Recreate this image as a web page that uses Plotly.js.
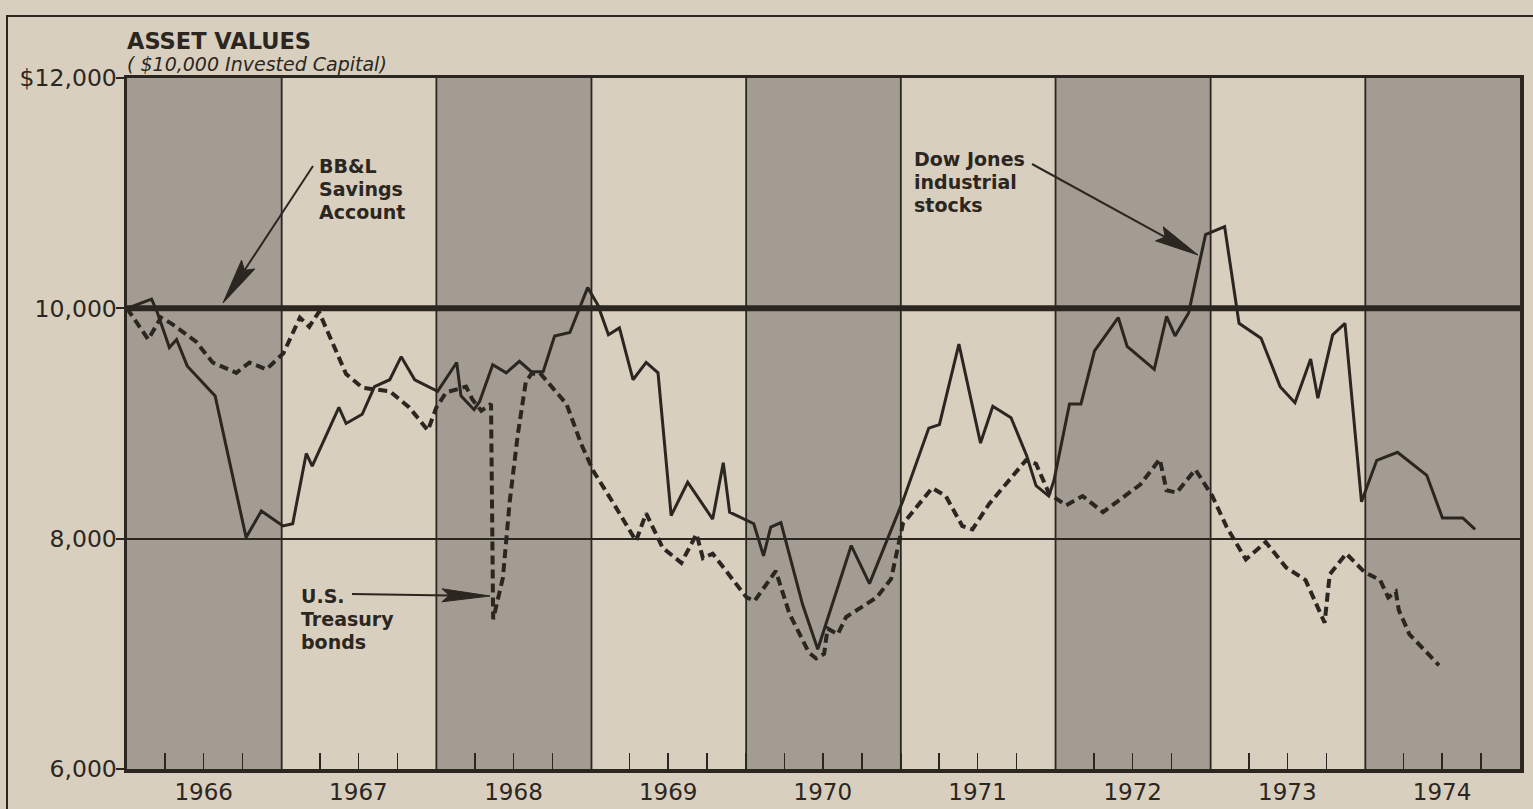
<!DOCTYPE html>
<html>
<head>
<meta charset="utf-8">
<script src="https://cdn.plot.ly/plotly-3.0.1.min.js"></script>
<style>
  html, body { margin: 0; padding: 0; background: #d8cfbf; }
  #chart { width: 1533px; height: 809px; }
</style>
</head>
<body>
<div id="chart"></div>
<script>
// ---------------- DATA ----------------
const years = [1966, 1967, 1968, 1969, 1970, 1971, 1972, 1973, 1974];
const yearLabels = ['1966', '1967', '1968', '1969', '1970', '1971', '1972', '1973', '1974'];

const yTickVals = [6000, 8000, 10000, 12000];
const yTickText = ['6,000', '8,000', '10,000', '$12,000'];

const savingsDates = ['1966-01-01', '1975-01-01'];
const savingsValues = [10000, 10000];

const dowDates = [
  '1966-01-01','1966-02-28','1966-03-13','1966-04-11','1966-04-28','1966-05-23','1966-07-28','1966-09-16','1966-10-09','1966-11-14',
  '1967-01-04','1967-01-27','1967-02-28','1967-03-14','1967-05-16','1967-06-02','1967-07-10','1967-08-08','1967-09-13','1967-10-10','1967-11-11',
  '1968-01-04','1968-02-18','1968-02-28','1968-03-30','1968-04-12','1968-05-13','1968-06-14','1968-07-15','1968-08-12','1968-09-09','1968-10-06','1968-11-11','1968-12-23',
  '1969-01-16','1969-02-10','1969-03-08','1969-04-09','1969-05-10','1969-06-07','1969-07-08','1969-08-16','1969-10-14','1969-11-08','1969-11-23',
  '1970-01-19','1970-02-11','1970-02-28','1970-03-24','1970-05-14','1970-06-19','1970-09-06','1970-10-19',
  '1971-01-06','1971-03-08','1971-04-02','1971-05-18','1971-07-08','1971-08-06','1971-09-18','1971-10-25','1971-11-16','1971-12-16','1971-12-28',
  '1972-02-03','1972-03-01','1972-04-02','1972-05-28','1972-06-18','1972-08-21','1972-09-19','1972-10-09','1972-11-10','1972-12-20',
  '1973-02-03','1973-03-09','1973-04-30','1973-06-14','1973-07-19','1973-08-25','1973-09-11','1973-10-16','1973-11-14','1973-12-23',
  '1974-01-28','1974-03-18','1974-05-26','1974-07-02','1974-08-19','1974-09-17'
];
const dowValues = [
  10000,10080,9970,9660,9730,9500,9240,8390,8010,8240,
  8110,8130,8740,8630,9140,9000,9080,9320,9380,9580,9380,
  9280,9530,9240,9120,9190,9510,9440,9540,9450,9450,9760,9790,10180,
  10030,9770,9830,9380,9530,9440,8200,8490,8170,8660,8230,
  8130,7850,8100,8140,7430,7040,7940,7610,
  8330,8960,8990,9690,8830,9150,9050,8720,8460,8370,8500,
  9170,9170,9630,9920,9670,9470,9930,9760,9960,10640,
  10710,9870,9740,9320,9180,9560,9220,9770,9870,8320,
  8680,8750,8550,8180,8180,8080
];

const bondDates = [
  '1966-01-01','1966-02-20','1966-03-22','1966-04-15','1966-06-13','1966-07-22','1966-09-16','1966-10-17','1966-11-26',
  '1967-01-05','1967-02-13','1967-03-07','1967-03-30','1967-06-02','1967-07-11','1967-09-13','1967-10-29','1967-12-12',
  '1968-01-01','1968-01-24','1968-03-11','1968-03-26','1968-04-16','1968-05-09','1968-05-14','1968-06-06','1968-06-22','1968-07-11','1968-07-30','1968-08-12','1968-09-01','1968-10-10','1968-11-03','1968-12-08',
  '1969-01-05','1969-02-28','1969-04-16','1969-05-10','1969-06-18','1969-08-01','1969-09-06','1969-09-21','1969-10-14',
  '1970-01-02','1970-01-21','1970-03-12','1970-04-13','1970-05-29','1970-06-15','1970-07-04','1970-07-12','1970-08-05','1970-08-25','1970-11-05','1970-12-09',
  '1971-01-06','1971-02-28','1971-03-16','1971-04-17','1971-05-26','1971-06-19','1971-07-28','1971-10-23','1971-11-16','1971-12-17',
  '1972-01-26','1972-03-05','1972-04-22','1972-07-19','1972-09-03','1972-09-19','1972-10-13','1972-11-26',
  '1973-01-05','1973-02-08','1973-03-25','1973-05-11','1973-06-28','1973-08-13','1973-09-27','1973-10-09','1973-11-17','1973-12-30',
  '1974-02-05','1974-02-24','1974-03-14','1974-03-21','1974-04-15','1974-06-24'
];
const bondValues = [
  10000,9730,9920,9870,9710,9530,9440,9530,9470,
  9610,9920,9840,9970,9430,9310,9280,9140,8940,
  9140,9270,9320,9210,9110,9170,7300,7660,8320,8900,9360,9430,9440,9280,9170,8820,
  8590,8270,7980,8220,7920,7790,8040,7830,7870,
  7490,7460,7720,7350,7010,6960,7000,7220,7170,7320,7490,7650,
  8130,8360,8440,8370,8110,8080,8300,8680,8650,8390,
  8290,8370,8230,8470,8690,8420,8400,8600,
  8370,8100,7820,7970,7750,7640,7270,7690,7870,7710,
  7640,7490,7540,7380,7170,6900
];

// ---------------- STYLE / LAYOUT ----------------
const INK = '#2c2621';
const PAPER = '#d8cfbf';
const DARK = '#a29c93';
const FONT = 'DejaVu Sans';

const W = 1533, H = 809, ML = 127, MR = 13, MT = 78, MB = 40;
const PW = W - ML - MR, PH = H - MT - MB;
const px = x => (x - ML) / PW;
const py = y => 1 - (y - MT) / PH;

const shapes = [];
// year bands
years.forEach((yr, i) => {
  if (i % 2 === 0) {
    shapes.push({type: 'rect', xref: 'x', yref: 'paper', x0: yr + '-01-01', x1: (yr + 1) + '-01-01',
      y0: 0, y1: 1, fillcolor: DARK, line: {width: 0}, layer: 'below'});
  }
  if (i > 0) {
    shapes.push({type: 'line', xref: 'x', yref: 'paper', x0: yr + '-01-01', x1: yr + '-01-01',
      y0: 0, y1: 1, line: {color: INK, width: 1.8}, layer: 'below'});
  }
});
// outer frame of the figure
shapes.push({type: 'rect', xref: 'paper', yref: 'paper', x0: px(7), x1: px(1560), y0: py(16), y1: py(840),
  line: {color: INK, width: 2}, fillcolor: 'rgba(0,0,0,0)', layer: 'below'});

// arrows (pixel positions of tail and tip)
function arrow(tail, tip, headLen, halfW) {
  const dx = tip[0] - tail[0], dy = tip[1] - tail[1];
  const len = Math.hypot(dx, dy);
  const ux = dx / len, uy = dy / len, nx = -uy, ny = ux;
  const base = [tip[0] - ux * headLen, tip[1] - uy * headLen];
  const notch = [tip[0] - ux * headLen * 0.85, tip[1] - uy * headLen * 0.85];
  const w1 = [base[0] + nx * halfW, base[1] + ny * halfW];
  const w2 = [base[0] - nx * halfW, base[1] - ny * halfW];
  const P = p => px(p[0]).toFixed(5) + ',' + py(p[1]).toFixed(5);
  shapes.push({type: 'path', xref: 'paper', yref: 'paper',
    path: 'M' + P(tail) + 'L' + P(notch), line: {color: INK, width: 2}, layer: 'above'});
  shapes.push({type: 'path', xref: 'paper', yref: 'paper',
    path: 'M' + P(tip) + 'L' + P(w1) + 'L' + P(notch) + 'L' + P(w2) + 'Z',
    fillcolor: INK, line: {color: INK, width: 1}, layer: 'above'});
}
arrow([313, 166], [223, 303], 46, 8);
arrow([1032, 164], [1198, 255], 44, 8);
arrow([352, 594], [490, 596], 48, 6.5);

const annotations = [];
function textBlock(lines, x, yCenter0, pitch, size, extra) {
  lines.forEach((t, i) => {
    annotations.push(Object.assign({
      text: t, xref: 'paper', yref: 'paper', x: px(x), y: py(yCenter0 + i * pitch),
      xanchor: 'left', yanchor: 'middle', showarrow: false, align: 'left',
      font: {family: FONT, size: size, color: INK, weight: 'bold'}
    }, extra || {}));
  });
}
textBlock(['ASSET VALUES'], 125, 41, 0, 22.5);
textBlock(['( $10,000 Invested Capital)'], 125, 64, 0, 19,
  {font: {family: FONT, size: 19, color: INK, style: 'italic'}});
textBlock(['BB&amp;L', 'Savings', 'Account'], 317, 166, 23, 19);
textBlock(['Dow Jones', 'industrial', 'stocks'], 912, 159, 23, 19);
textBlock(['U.S.', 'Treasury', 'bonds'], 299, 596, 23, 19);

const traces = [
  {x: savingsDates, y: savingsValues, type: 'scatter', mode: 'lines', name: 'BB&L Savings Account',
   line: {color: INK, width: 6}, hoverinfo: 'skip'},
  {x: bondDates, y: bondValues, type: 'scatter', mode: 'lines', name: 'U.S. Treasury bonds',
   line: {color: INK, width: 4, dash: '9px,5px'}, hoverinfo: 'skip'},
  {x: dowDates, y: dowValues, type: 'scatter', mode: 'lines', name: 'Dow Jones industrial stocks',
   line: {color: INK, width: 3}, hoverinfo: 'skip'}
];

const layout = {
  width: W, height: H,
  margin: {l: ML, r: MR, t: MT, b: MB, pad: 0},
  paper_bgcolor: PAPER, plot_bgcolor: PAPER,
  showlegend: false,
  font: {family: FONT, color: INK},
  xaxis: {
    type: 'date', range: ['1966-01-01', '1975-01-01'],
    tickmode: 'array', tickvals: years.map(y => y + '-07-01'), ticktext: yearLabels,
    ticks: 'inside', ticklen: 16, tickwidth: 1.5, tickcolor: INK,
    minor: {tick0: '1966-01-01', dtick: 'M3', ticks: 'inside', ticklen: 16, tickwidth: 1.5, tickcolor: INK, showgrid: false},
    tickfont: {family: FONT, size: 23, color: INK},
    showgrid: false, zeroline: false,
    showline: true, mirror: true, linecolor: INK, linewidth: 3.5,
    fixedrange: true
  },
  yaxis: {
    range: [6000, 12000],
    tickmode: 'array', tickvals: yTickVals, ticktext: yTickText,
    ticks: 'outside', ticklen: 8, tickwidth: 2, tickcolor: INK,
    ticklabelstandoff: -6,
    tickfont: {family: FONT, size: 23.5, color: INK},
    showgrid: true, gridcolor: INK, gridwidth: 1.8,
    zeroline: false,
    showline: true, mirror: true, linecolor: INK, linewidth: 3.5,
    fixedrange: true
  },
  shapes: shapes,
  annotations: annotations
};

Plotly.newPlot('chart', traces, layout, {displayModeBar: false, staticPlot: true});
</script>
</body>
</html>
